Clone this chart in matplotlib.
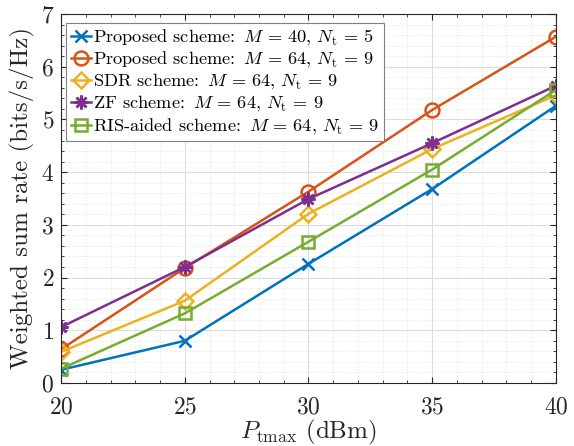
import matplotlib
matplotlib.use("Agg")
import matplotlib.pyplot as plt
from matplotlib.ticker import MultipleLocator

plt.rcParams['font.family'] = ['cmr10', 'DejaVu Serif']
plt.rcParams['mathtext.fontset'] = 'cm'
plt.rcParams['axes.formatter.use_mathtext'] = True

x = [20, 25, 30, 35, 40]
prop_40_5 = [0.25, 0.80, 2.26, 3.68, 5.26]
prop_64_9 = [0.64, 2.18, 3.63, 5.18, 6.57]
sdr_64_9 = [0.59, 1.56, 3.21, 4.44, 5.46]
zf_64_9 = [1.06, 2.20, 3.49, 4.55, 5.64]
ris_64_9 = [0.27, 1.32, 2.68, 4.05, 5.56]

labels = [
    r'Proposed scheme: $\,M\,=\,40,\,N_{\mathrm{t}}\,=\,5$',
    r'Proposed scheme: $\,M\,=\,64,\,N_{\mathrm{t}}\,=\,9$',
    r'SDR scheme: $\,M\,=\,64,\,N_{\mathrm{t}}\,=\,9$',
    r'ZF scheme: $\,M\,=\,64,\,N_{\mathrm{t}}\,=\,9$',
    r'RIS-aided scheme: $\,M\,=\,64,\,N_{\mathrm{t}}\,=\,9$',
]
series = [prop_40_5, prop_64_9, sdr_64_9, zf_64_9, ris_64_9]
colors = ['#0072BD', '#D95319', '#EDB120', '#7E2F8E', '#77AC30']
markers = ['x', 'o', 'D', (8, 2, 0), 's']
msizes = [8, 10, 8, 10, 8]

fig = plt.figure(figsize=(5.74, 4.46), dpi=100)
ax = fig.add_axes([0.1063, 0.1413, 0.8623, 0.8273])

for y, lab, c, m, ms in zip(series, labels, colors, markers, msizes):
    ax.plot(x, y, color=c, marker=m, markersize=ms, markerfacecolor='none',
            markeredgecolor=c, markeredgewidth=1.8, linewidth=1.8, label=lab)

ax.set_xlim(20, 40)
ax.set_ylim(0, 7)
ax.xaxis.set_major_locator(MultipleLocator(5))
ax.xaxis.set_minor_locator(MultipleLocator(1))
ax.yaxis.set_major_locator(MultipleLocator(1))
ax.yaxis.set_minor_locator(MultipleLocator(0.2))
ax.grid(True, which='major', color='#dcdcdc', linewidth=0.8)
ax.grid(True, which='minor', color='#e4e4e4', linestyle=':', linewidth=0.7)
ax.set_axisbelow(True)
ax.tick_params(which='both', direction='in', top=True, right=True, colors='#262626', labelsize=17)
ax.tick_params(axis='x', which='major', pad=10)
ax.tick_params(axis='y', which='major', pad=5)
ax.tick_params(which='major', length=4)
ax.tick_params(which='minor', length=2)
for s in ax.spines.values():
    s.set_color('#262626')
    s.set_linewidth(0.8)

ax.set_xlabel(r'$P_{\mathrm{tmax}}$ (dBm)', fontsize=18, color='#262626', labelpad=-1)
ax.set_ylabel('Weighted sum rate (bits/s/Hz)', fontsize=18, color='#262626', labelpad=4)

leg = ax.legend(loc='upper left', bbox_to_anchor=(0.0101, 0.9756), fontsize=13.2,
                handlelength=1.1, handletextpad=0.1, borderpad=0.25, labelspacing=0.12,
                borderaxespad=0, fancybox=False, framealpha=1, edgecolor='#808080')
leg.get_frame().set_linewidth(0.8)

fig.savefig('out.png', dpi=100)
